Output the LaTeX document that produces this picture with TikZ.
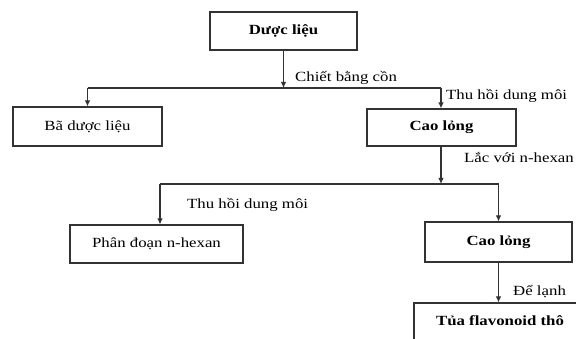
\documentclass[tikz,border=0pt]{standalone}
\usepackage{fontspec}
\setmainfont{Liberation Serif}[FakeStretch=1.2]
\usetikzlibrary{arrows.meta}
\begin{document}
\begin{tikzpicture}[x=1pt,y=-1pt,
  box/.style={draw=black!80, line width=1.1pt, inner sep=0pt, font=\fontsize{14}{16}\selectfont},
  bbox/.style={box, font=\fontsize{14}{16}\selectfont\bfseries},
  lbl/.style={anchor=base west, inner sep=0pt, font=\fontsize{14}{16}\selectfont},
  conn/.style={draw=black!80, line width=1.1pt},
  arr/.style={conn, -{Latex[length=6pt,width=5.5pt]}}]
\useasboundingbox[fill=white] (0,0) rectangle (576,339);
% boxes
\node[bbox, minimum width=147pt, minimum height=38pt] (d1) at (283.5,31) {Dược liệu};
\node[box, minimum width=149pt, minimum height=39pt] (ba) at (87.5,126.5) {Bã dược liệu};
\node[bbox, minimum width=149pt, minimum height=37pt] (c1) at (441.5,127.5) {Cao lỏng};
\node[box, minimum width=173pt, minimum height=38pt] (pd) at (156.5,244) {Phân đoạn n-hexan};
\node[bbox, minimum width=147pt, minimum height=40pt] (c2) at (498.5,242) {Cao lỏng};
\node[bbox, minimum width=172pt, minimum height=44pt, text height=8pt, text depth=8pt] (tua) at (500,325) {Tủa flavonoid thô};
% junctions
\coordinate (j1) at (283.5,88);
\coordinate (j1l) at (87.5,88);
\coordinate (j1r) at (441,88);
\coordinate (j2) at (441,184);
\coordinate (j2l) at (160,184);
\coordinate (j2r) at (498.5,184);
% connectors
\draw[arr] (d1.south) -- (j1);
\draw[conn] (j1l) -- (j1r);
\draw[arr] (j1l) -- (ba.north);
\draw[arr] (j1r) -- (j1r |- c1.north);
\draw[arr] (j1r |- c1.south) -- (j2);
\draw[conn] (j2l) -- (j2r);
\draw[arr] (j2l) -- (j2l |- pd.north);
\draw[arr] (j2r) -- (c2.north);
\draw[arr] (c2.south) -- (c2.south |- tua.north);
% labels
\node[lbl] (l1) at (295,82) {Chiết bằng cồn};
\node[lbl] (l2) at (446,100) {Thu hồi dung môi};
\node[lbl] (l3) at (464,163) {Lắc với n-hexan};
\node[lbl] (l4) at (187,209) {Thu hồi dung môi};
\node[lbl] (l5) at (513,296) {Để lạnh};
\end{tikzpicture}
\end{document}
